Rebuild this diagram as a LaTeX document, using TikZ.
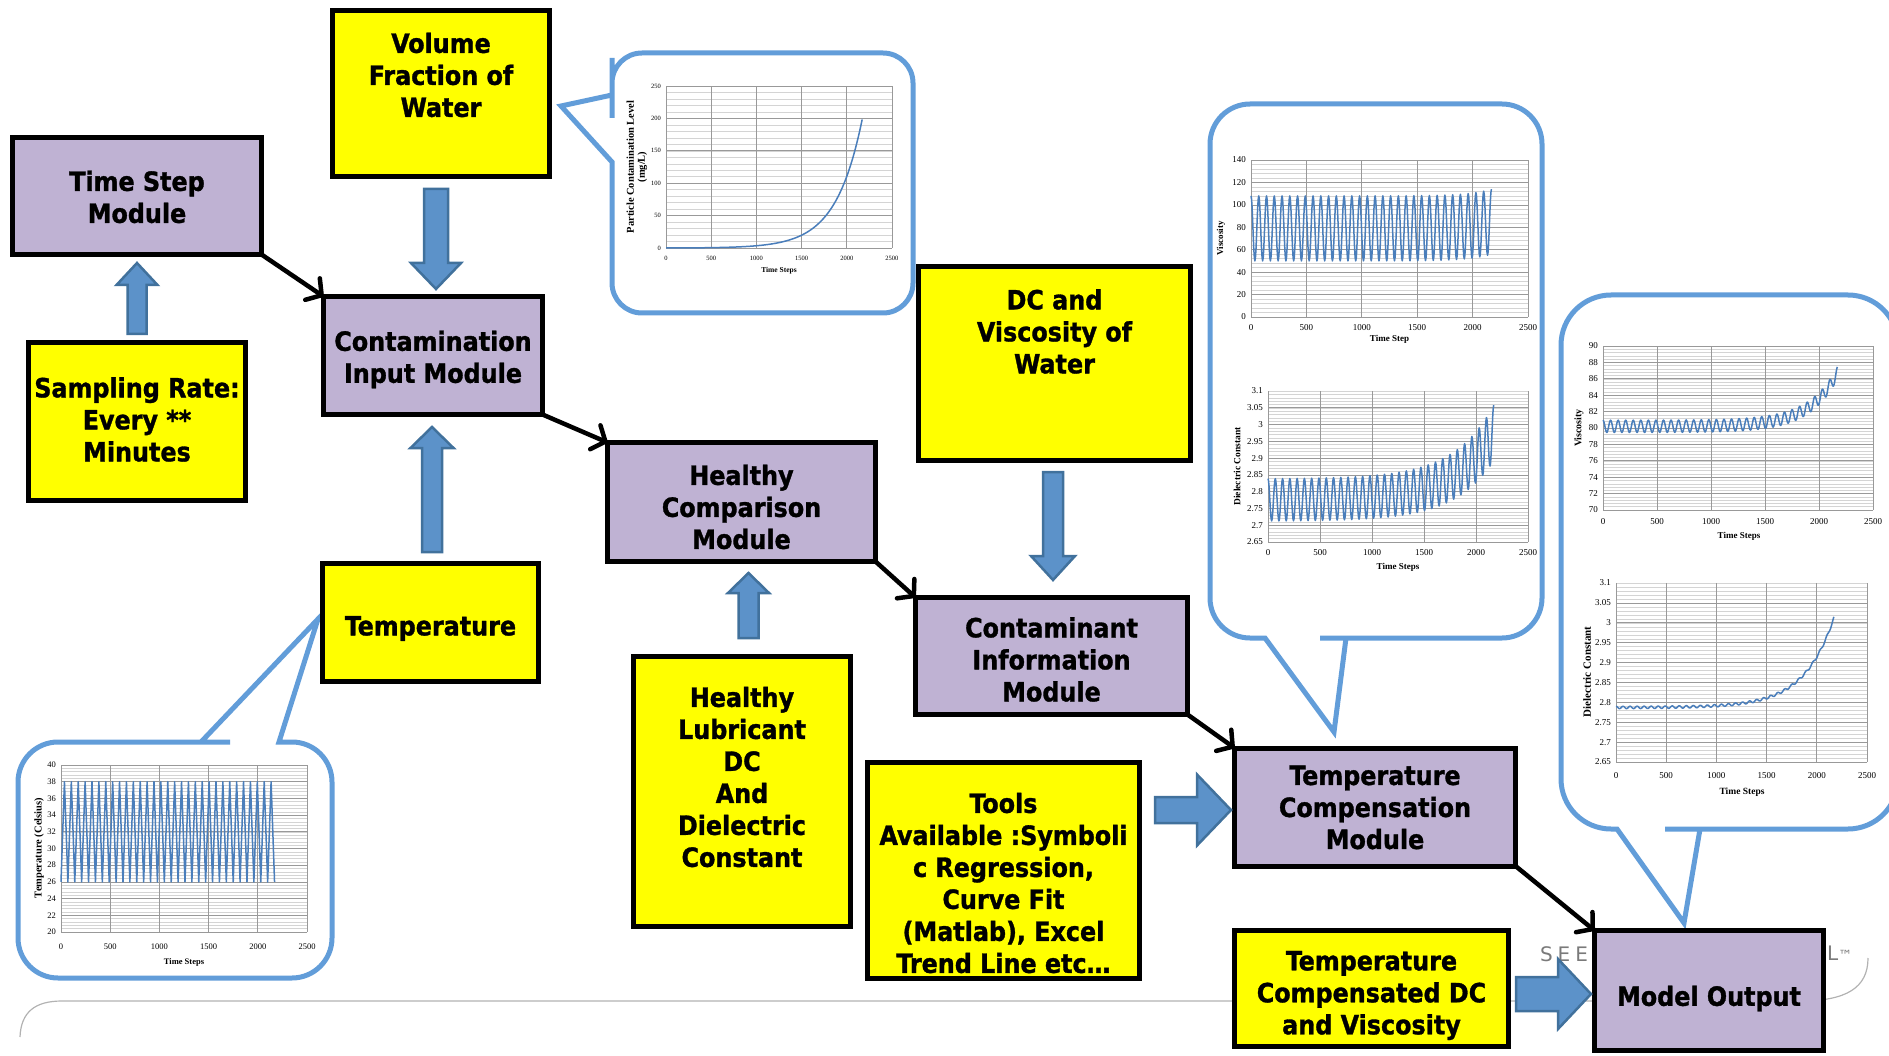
\documentclass[tikz,border=0pt]{standalone}
\usepackage{fontspec}
\setmainfont{DejaVu Sans Condensed}[BoldFeatures={FakeBold=1.2}]
\newfontfamily\chartfont{Liberation Serif}
\newfontfamily\logofont{DejaVu Sans}
\usetikzlibrary{arrows.meta,calc}

\definecolor{modfill}{RGB}{191,178,211}
\definecolor{inyellow}{RGB}{255,255,0}
\definecolor{arrowfill}{RGB}{92,146,201}
\definecolor{arrowedge}{RGB}{65,113,156}
\definecolor{callblue}{RGB}{98,157,217}
\definecolor{traceblue}{RGB}{74,126,187}

% fat arrow: tail, tip, half shaft, half head, head length
\newcommand{\blockarrow}[5]{%
  \coordinate (ba-t) at (#1);
  \coordinate (ba-p) at (#2);
  \coordinate (ba-h) at ($(ba-p)!#5pt!(ba-t)$);
  \draw[blockedge] ($(ba-t)!#3pt!90:(ba-p)$) -- ($(ba-h)!#3pt!90:(ba-p)$)
    -- ($(ba-h)!#4pt!90:(ba-p)$) -- (ba-p) -- ($(ba-h)!#4pt!-90:(ba-p)$)
    -- ($(ba-h)!#3pt!-90:(ba-p)$) -- ($(ba-t)!#3pt!-90:(ba-p)$) -- cycle;
}

% chart grid: prefix, top, minor step, major step, tick label offset
\newcommand{\chartgrid}[5]{%
  \foreach \v in {0,#3,...,#2} \draw[minorgrid] (0,\v) -- (2500,\v);
  \foreach \v in {0,#4,...,#2} \draw[majorgrid] (0,\v) -- (2500,\v);
  \foreach \u [count=\i] in {0,500,...,2500} {
    \draw[majorgrid] (\u,0) -- (\u,#2);
    \node[ticklbl, yshift=-#5pt] (#1x\i) at (\u,0) {\u};
  }
}

\begin{document}
\begin{tikzpicture}[x=1pt, y=-1pt,
  basebox/.style={draw=black, line width=5pt, inner sep=0pt, outer sep=0pt},
  modbox/.style={basebox, fill=modfill},
  inbox/.style={basebox, fill=inyellow},
  boxtext/.style={align=center, inner sep=0pt, font=\fontsize{26.5}{32}\selectfont\bfseries},
  flowline/.style={line width=4.5pt, -{Straight Barb[length=11pt, width=26pt, round]}},
  blockedge/.style={draw=arrowedge, fill=arrowfill, line width=2.5pt},
  bubble/.style={draw=callblue, line width=5pt, fill=white},
  minorgrid/.style={draw=black!17, line width=0.5pt},
  majorgrid/.style={draw=black!40, line width=0.7pt},
  trace/.style={draw=traceblue, line width=1.5pt, line join=round},
  ticklbl/.style={inner sep=0pt, font=\chartfont\fontsize{9}{10}\selectfont},
  axtitle/.style={inner sep=0pt, align=center, font=\chartfont\bfseries\fontsize{9}{10}\selectfont},
  logotext/.style={inner sep=0pt, text=black!52, font=\logofont\fontsize{20}{20}\selectfont},
  footer/.style={draw=black!30, line width=1.2pt}]

\useasboundingbox (0,0) rectangle (1889,1056);

% slide footer
\draw[footer] (20,1037) .. controls (21,1012) and (35,1001) .. (62,1001) -- (1800,1001)
  .. controls (1846,1001) and (1868,988) .. (1868,958);
\node[logotext] (seel) at (1564,954) {S\hspace{5pt}E\hspace{5pt}E};
\node[logotext, anchor=west] (seer) at (1827,953) {L{\fontsize{14}{14}\selectfont ™}};

% callouts
\draw[bubble] (561,106) -- (612,162) -- (612,180) [rounded corners=30pt] -- (612,313)
  -- (913,313) -- (913,53) -- (612,53) -- (612,88) [sharp corners] -- (612,95) -- cycle;
\draw[bubble] (1334,732) -- (1265,638) -- (1255,638) [rounded corners=40pt] -- (1210,638)
  -- (1210,104) -- (1542,104) -- (1542,638) -- (1360,638) [sharp corners] -- (1346,638) -- cycle;
\draw[bubble] (1684,923) -- (1617,829) -- (1614,829) [rounded corners=50pt] -- (1561,829)
  -- (1561,295) -- (1898,295) -- (1898,829) -- (1715,829) [sharp corners] -- (1700,829) -- cycle;
\draw[bubble] (318,619) -- (279,742) -- (285,742) [rounded corners=40pt] -- (332,742)
  -- (332,978) -- (18,978) -- (18,742) -- (190,742) [sharp corners] -- (201,742) -- cycle;

% particle contamination chart
\begin{scope}[shift={(666,248)}, x=0.0904pt, y=0.648pt,
    ticklbl/.append style={font=\chartfont\fontsize{6.5}{7}\selectfont}]
  \chartgrid{pc}{250}{10}{50}{10}
  \foreach \v [count=\i] in {0,50,...,250}
    \node[ticklbl, anchor=east, xshift=-5pt] (pcy\i) at (0,\v) {\v};
  \draw[trace] plot[domain=0:2170, samples=150] (\x, {0.1154*(exp(0.003437*\x)-1)});
\end{scope}
\node[axtitle, font=\chartfont\bfseries\fontsize{7.5}{8}\selectfont] (pcxt) at (779,271) {Time Steps};
\node[axtitle, rotate=90, font=\chartfont\bfseries\fontsize{10.5}{11}\selectfont] (pcyt) at (637,167)
  {Particle Contamination Level\\(mg/L)};

% viscosity of water chart
\begin{scope}[shift={(1251,317)}, x=0.1108pt, y=1.1214pt]
  \chartgrid{vw}{140}{4}{20}{11}
  \foreach \v [count=\i] in {0,20,...,140}
    \node[ticklbl, anchor=east, xshift=-5pt] (vwy\i) at (0,\v) {\v};
  \draw[trace] plot[domain=0:2170, samples=435] (\x, {79+29*cos(5.1429*\x)+6*exp((\x-2170)/200)});
\end{scope}
\node[axtitle] (vwxt) at (1389.5,339) {Time Step};
\node[axtitle, rotate=90] (vwyt) at (1221,238.5) {Viscosity};

% dielectric constant of water chart
\begin{scope}[shift={(1268,542)}, x=0.104pt, y=335.56pt]
  \chartgrid{dw}{0.45}{0.01}{0.05}{11}
  \foreach \v/\t [count=\i] in {0/2.65,0.05/2.7,0.1/2.75,0.15/2.8,0.2/2.85,0.25/2.9,0.3/2.95,0.35/3,0.4/3.05,0.45/3.1}
    \node[ticklbl, anchor=east, xshift=-5pt] (dwy\i) at (0,\v) {\t};
  \draw[trace] plot[domain=0:2170, samples=435]
    (\x, {0.125+0.2*exp((\x-2170)/380)+(0.063+0.02*exp((\x-2170)/380))*cos(5.1429*\x)});
\end{scope}
\node[axtitle] (dwxt) at (1398,567) {Time Steps};
\node[axtitle, rotate=90, font=\chartfont\bfseries\fontsize{9.5}{10}\selectfont] (dwyt) at (1237,466.5) {Dielectric Constant};

% compensated viscosity chart
\begin{scope}[shift={(1603,510)}, x=0.108pt, y=8.2pt]
  \chartgrid{vc}{20}{0.4}{2}{12}
  \foreach \v [count=\i] in {0,2,...,20} {
    \pgfmathtruncatemacro\t{70+\v}
    \node[ticklbl, anchor=east, xshift=-5pt] (vcy\i) at (0,\v) {\t};
  }
  \draw[trace] plot[domain=0:2170, samples=435] (\x, {10.2+0.75*cos(5.1429*\x)+6.5*exp((\x-2170)/260)});
\end{scope}
\node[axtitle] (vcxt) at (1739,536) {Time Steps};
\node[axtitle, rotate=90, font=\chartfont\bfseries\fontsize{10}{11}\selectfont] (vcyt) at (1579,428) {Viscosity};

% compensated dielectric constant chart
\begin{scope}[shift={(1616,762)}, x=0.1004pt, y=397.8pt]
  \chartgrid{dc}{0.45}{0.01}{0.05}{14}
  \foreach \v/\t [count=\i] in {0/2.65,0.05/2.7,0.1/2.75,0.15/2.8,0.2/2.85,0.25/2.9,0.3/2.95,0.35/3,0.4/3.05,0.45/3.1}
    \node[ticklbl, anchor=east, xshift=-5pt] (dcy\i) at (0,\v) {\t};
  \draw[trace] plot[domain=0:2170, samples=435] (\x, {0.137+0.003*cos(5.1429*\x)+0.225*exp((\x-2170)/300)});
\end{scope}
\node[axtitle, font=\chartfont\bfseries\fontsize{9.5}{10}\selectfont] (dcxt) at (1742,792) {Time Steps};
\node[axtitle, rotate=90, font=\chartfont\bfseries\fontsize{11}{12}\selectfont] (dcyt) at (1587,672) {Dielectric Constant};

% temperature chart
\begin{scope}[shift={(61,932)}, x=0.0984pt, y=8.35pt,
    ticklbl/.append style={font=\chartfont\fontsize{8.5}{9}\selectfont}]
  \chartgrid{tp}{20}{0.4}{2}{15}
  \foreach \v [count=\i] in {0,2,...,20} {
    \pgfmathtruncatemacro\t{20+\v}
    \node[ticklbl, anchor=east, xshift=-5pt] (tpy\i) at (0,\v) {\t};
  }
  \draw[trace] plot[domain=0:2170, samples=63] (\x, {6+12*(1-abs(mod(\x,70)/35-1))});
\end{scope}
\node[axtitle, font=\chartfont\bfseries\fontsize{8.5}{9}\selectfont] (tpxt) at (184,962) {Time Steps};
\node[axtitle, rotate=90, font=\chartfont\bfseries\fontsize{10.5}{11}\selectfont] (tpyt) at (39,848) {Temperature (Celsius)};

% modules and inputs
\node[modbox, minimum width=249pt, minimum height=117pt] (ts) at (137,196) {};
\node[boxtext] (tst) at ($(ts)+(0,1)$) {Time Step\\Module};
\node[inbox, minimum width=217pt, minimum height=166pt] (vol) at (441,93.5) {};
\node[boxtext] (volt) at ($(vol)+(0,-18.5)$) {Volume\\Fraction of\\Water};
\node[inbox, minimum width=217pt, minimum height=158pt] (samp) at (137,421.5) {};
\node[boxtext] (sampt) at ($(samp)+(0,-2)$) {Sampling Rate:\\Every **\\Minutes};
\node[modbox, minimum width=219pt, minimum height=118pt] (cim) at (433,355.5) {};
\node[boxtext] (cimt) at ($(cim)+(0,4)$) {Contamination\\Input Module};
\node[inbox, minimum width=216pt, minimum height=118pt] (temp) at (430.5,622.5) {};
\node[boxtext] (tempt) at ($(temp)+(0,6)$) {Temperature};
\node[modbox, minimum width=268pt, minimum height=119pt] (hcm) at (741.5,502) {};
\node[boxtext] (hcmt) at ($(hcm)+(0,5)$) {Healthy\\Comparison\\Module};
\node[inbox, minimum width=217pt, minimum height=270pt] (hlub) at (742,791.5) {};
\node[boxtext] (hlubt) at ($(hlub)+(0,-14.5)$) {Healthy\\Lubricant\\DC\\And\\Dielectric\\Constant};
\node[inbox, minimum width=272pt, minimum height=194pt] (dcw) at (1054.5,363.5) {};
\node[boxtext] (dcwt) at ($(dcw)+(0,-32)$) {DC and\\Viscosity of\\Water};
\node[modbox, minimum width=272pt, minimum height=117pt] (cinf) at (1051.5,656) {};
\node[boxtext] (cinft) at ($(cinf)+(0,3.5)$) {Contaminant\\Information\\Module};
\node[inbox, minimum width=272pt, minimum height=216pt] (tools) at (1003.5,870) {};
\node[boxtext] (toolst) at ($(tools)+(0,13)$) {Tools\\Available :Symboli\\c Regression,\\Curve Fit\\(Matlab), Excel\\Trend Line etc…};
\node[modbox, minimum width=281pt, minimum height=118pt] (tcm) at (1375,807) {};
\node[boxtext] (tcmt) at ($(tcm)+(0,0.5)$) {Temperature\\Compensation\\Module};
\node[inbox, minimum width=274pt, minimum height=116pt] (tcdc) at (1371.5,988.5) {};
\node[boxtext] (tcdct) at ($(tcdc)+(0,7)$) {Temperature\\Compensated DC\\and Viscosity};
\node[modbox, minimum width=229pt, minimum height=120pt] (mout) at (1709,990.5) {};
\node[boxtext] (moutt) at ($(mout)+(0,8)$) {Model Output};

% fat input arrows
\blockarrow{$(samp.north)+(0,-8.5)$}{$(ts.south)+(0,8.5)$}{9.5}{20.5}{22}
\blockarrow{$(vol.south)+(-5,12.5)$}{$(cim.north)+(3,-7.5)$}{12}{25}{26}
\blockarrow{$(temp.north)+(1.5,-11.5)$}{$(cim.south)+(-1,12.5)$}{10}{21.5}{21}
\blockarrow{$(hlub.north)+(6.5,-18.5)$}{$(hcm.south)+(7,11.5)$}{10}{20.5}{20}
\blockarrow{$(dcw.south)+(-1.5,11.5)$}{$(cinf.north)+(1.5,-17.5)$}{10}{22}{24}
\blockarrow{$(tools.east)+(15.5,-60)$}{$(tcm.west)+(-3.5,3)$}{13}{35.5}{34}
\blockarrow{$(tcdc.east)+(7.5,5.5)$}{$(mout.west)+(-3.5,3.5)$}{17}{35}{33}

% module flow
\draw[flowline] (ts.south east) -- (cim.north west);
\draw[flowline] (cim.south east) -- (hcm.north west);
\draw[flowline] (hcm.south east) -- (cinf.north west);
\draw[flowline] (cinf.south east) -- (tcm.north west);
\draw[flowline] (tcm.south east) -- (mout.north west);
\end{tikzpicture}
\end{document}
